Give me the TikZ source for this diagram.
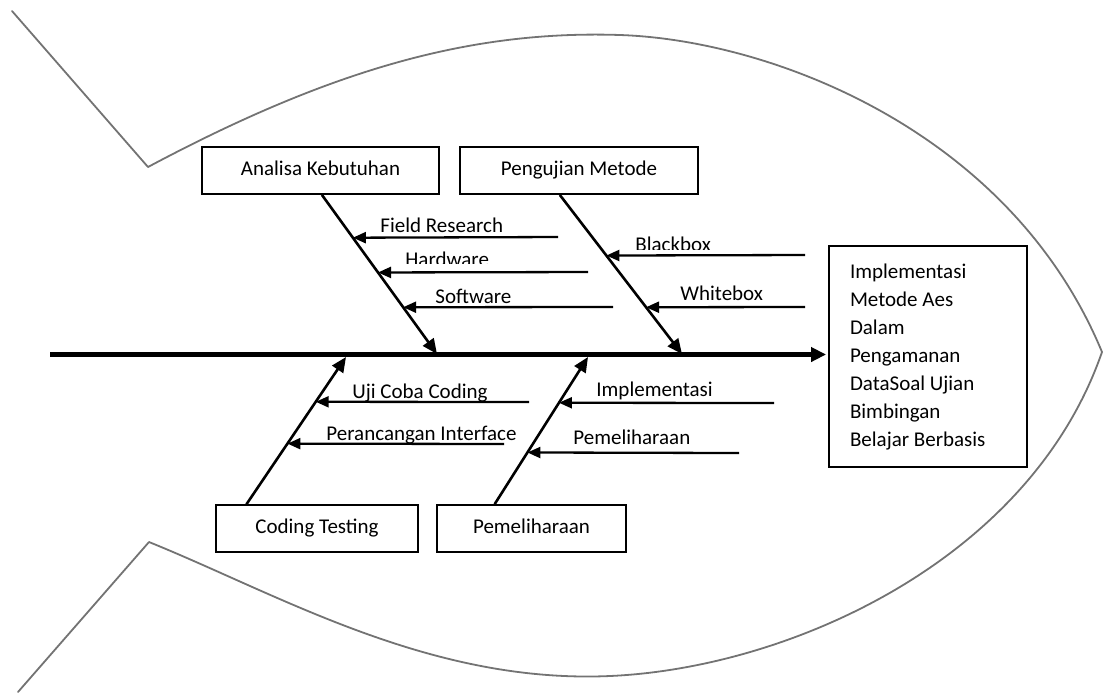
\documentclass[tikz,border=0pt]{standalone}
\usepackage{fontspec}
\setmainfont{Carlito}
\usetikzlibrary{arrows.meta,calc}
\begin{document}
\begin{tikzpicture}[x=0.5pt,y=-0.5pt,
  font=\fontsize{10.5}{13}\selectfont,
  box/.style={draw, line width=0.9pt, inner sep=0pt, minimum height=23.5pt, text height=7.6pt, text depth=2.2pt},
  bone/.style={line width=1.3pt, -{Triangle[length=7.5pt,width=6.5pt]}},
  sub/.style={line width=1.15pt, -{Triangle[length=6.5pt,width=5.5pt]}},
  spine/.style={line width=2.25pt, -{Triangle[length=7.5pt,width=7pt]}},
  outline/.style={draw=black!55, line width=0.9pt, line join=round, line cap=round},
  lbl/.style={anchor=base west, inner sep=0pt}]
\useasboundingbox (0,0) rectangle (1103,693);

% fish outline
\draw[outline] (12,11) -- (148,167)
  .. controls (330,70) and (470,30) .. (620,35)
  .. controls (770,40) and (1010,130) .. (1102,352)
  .. controls (1030,560) and (790,668) .. (610,676)
  .. controls (430,684) and (280,595) .. (149,542)
  -- (18,692);

% boxes
\node[box, minimum width=118.5pt] (ana) at (320.5,170.5) {Analisa Kebutuhan};
\node[box, minimum width=119pt] (pen) at (579,170.5) {Pengujian Metode};
\node[box, minimum width=101pt, line width=0.7pt] (cod) at (317,528.5) {Coding Testing};
\node[box, minimum width=94.5pt] (pem) at (531.5,528.5) {Pemeliharaan};
\node[draw, line width=0.9pt, inner sep=0pt, minimum width=99pt, minimum height=110.5pt] (effect) at (928,356.5)
  {\begin{minipage}{99pt}\fontsize{10.5}{14}\selectfont\leftskip=10.5pt\relax
   Implementasi\\Metode Aes\\Dalam\\Pengamanan\\DataSoal Ujian\\Bimbingan\\Belajar Berbasis\end{minipage}};

% spine
\coordinate (s0) at (50,354.5);
\draw[spine, shorten >=1pt] (s0) -- (s0 -| effect.west);

% bone anchors
\coordinate (a0) at ($(ana.south west)!0.506!(ana.south east)$);
\coordinate (a1) at (437,354);
\coordinate (p0) at ($(pen.south west)!0.42!(pen.south east)$);
\coordinate (p1) at (682,354);
\coordinate (c0) at ($(cod.north west)!0.153!(cod.north east)$);
\coordinate (c1) at (346,357);
\coordinate (m0) at ($(pem.north west)!0.307!(pem.north east)$);
\coordinate (m1) at (588,357);

\draw[bone] (a0) -- (a1);
\draw[bone] (p0) -- (p1);
\draw[bone] (c0) -- (c1);
\draw[bone] (m0) -- (m1);

% sub-cause free ends
\coordinate (fr) at (558,237);
\coordinate (hw) at (588,272);
\coordinate (sw) at (613,307);
\coordinate (bb) at (805,255);
\coordinate (wb) at (805,307);
\coordinate (uc) at (529,402);
\coordinate (pi) at (504,444);
\coordinate (im) at (774,403);
\coordinate (pm) at (739,453);

\draw[sub] (fr) -- ($(a0)!0.269!(a1)$);
\draw[sub] (hw) -- ($(a0)!0.4875!(a1)$);
\draw[sub] (sw) -- ($(a0)!0.706!(a1)$);
\draw[sub] (bb) -- ($(p0)!0.381!(p1)$);
\draw[sub] (wb) -- ($(p0)!0.706!(p1)$);
\draw[sub] (uc) -- ($(c0)!0.696!(c1)$);
\draw[sub] (pi) -- ($(c0)!0.412!(c1)$);
\draw[sub] (im) -- ($(m0)!0.689!(m1)$);
\draw[sub] (pm) -- ($(m0)!0.351!(m1)$);

% labels
\node[lbl] (lfr) at (380,232) {Field Research};
\begin{scope}
  \clip (395,240) rectangle (500,263);
  \node[lbl] (lhw) at (405,266.5) {Hardware};
\end{scope}
\node[lbl] (lsw) at (435,303) {Software};
\begin{scope}
  \clip (625,225) rectangle (725,249);
  \node[lbl] (lbb) at (635,251.5) {Blackbox};
\end{scope}
\node[lbl] (lwb) at (680,300) {Whitebox};
\node[lbl] (luc) at (352,398) {Uji Coba Coding};
\node[lbl] (lpi) at (326,440) {Perancangan Interface};
\node[lbl] (lim) at (596,396) {Implementasi};
\node[lbl] (lpm) at (573,444) {Pemeliharaan};
\end{tikzpicture}
\end{document}
